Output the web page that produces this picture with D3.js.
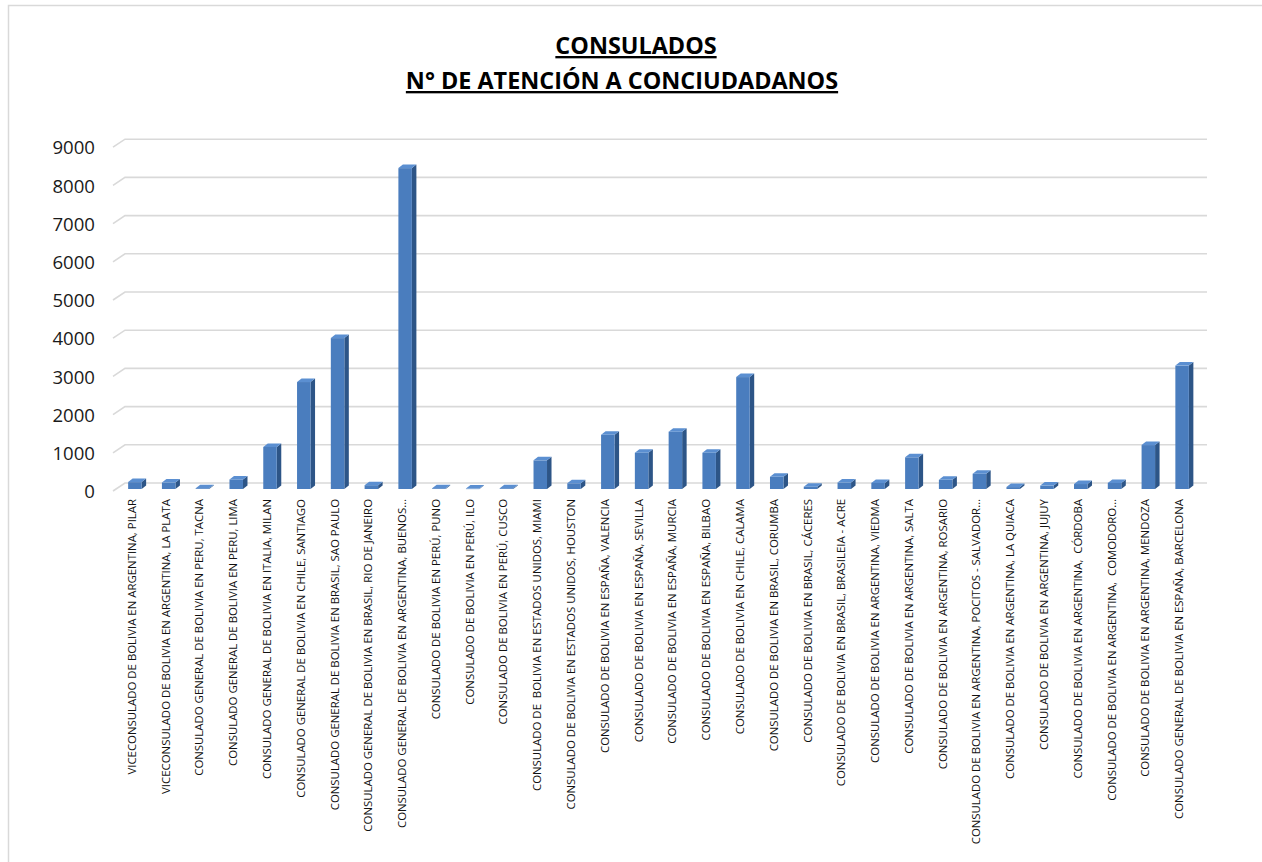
<!DOCTYPE html>
<html>
<head>
<meta charset="utf-8">
<script src="https://cdn.jsdelivr.net/npm/d3@7/dist/d3.min.js"></script>
<style>
  html, body { margin: 0; padding: 0; background: #fff; }
  svg { display: block; }
</style>
</head>
<body>
<svg id="chart" width="1262" height="862"></svg>
<script>
// ---- DATA ----
const titleLines = ["CONSULADOS", "N° DE ATENCIÓN A CONCIUDADANOS"];
const categories = [
  "VICECONSULADO DE BOLIVIA EN ARGENTINA, PILAR",
  "VICECONSULADO DE BOLIVIA EN ARGENTINA, LA PLATA",
  "CONSULADO GENERAL DE BOLIVIA EN PERU, TACNA",
  "CONSULADO GENERAL DE BOLIVIA EN PERU, LIMA",
  "CONSULADO GENERAL DE BOLIVIA EN ITALIA, MILAN",
  "CONSULADO GENERAL DE BOLIVIA EN CHILE, SANTIAGO",
  "CONSULADO GENERAL DE BOLIVIA EN BRASIL, SAO PAULO",
  "CONSULADO GENERAL DE BOLIVIA EN BRASIL, RIO DE JANEIRO",
  "CONSULADO GENERAL DE BOLIVIA EN ARGENTINA, BUENOS…",
  "CONSULADO DE BOLIVIA EN PERÚ, PUNO",
  "CONSULADO DE BOLIVIA EN PERÚ, ILO",
  "CONSULADO DE BOLIVIA EN PERÚ, CUSCO",
  "CONSULADO DE  BOLIVIA EN ESTADOS UNIDOS, MIAMI",
  "CONSULADO DE BOLIVIA EN ESTADOS UNIDOS, HOUSTON",
  "CONSULADO DE BOLIVIA EN ESPAÑA, VALENCIA",
  "CONSULADO DE BOLIVIA EN ESPAÑA, SEVILLA",
  "CONSULADO DE BOLIVIA EN ESPAÑA, MURCIA",
  "CONSULADO DE BOLIVIA EN ESPAÑA, BILBAO",
  "CONSULADO DE BOLIVIA EN CHILE, CALAMA",
  "CONSULADO DE BOLIVIA EN BRASIL, CORUMBA",
  "CONSULADO DE BOLIVIA EN BRASIL, CÁCERES",
  "CONSULADO DE BOLIVIA EN BRASIL, BRASILEIA - ACRE",
  "CONSULADO DE BOLIVIA EN ARGENTINA, VIEDMA",
  "CONSULADO DE BOLIVIA EN ARGENTINA, SALTA",
  "CONSULADO DE BOLIVIA EN ARGENTINA, ROSARIO",
  "CONSULADO DE BOLIVIA EN ARGENTINA, POCITOS - SALVADOR…",
  "CONSULADO DE BOLIVIA EN ARGENTINA, LA QUIACA",
  "CONSULADO DE BOLIVIA EN ARGENTINA, JUJUY",
  "CONSULADO DE BOLIVIA EN ARGENTINA,  CÓRDOBA",
  "CONSULADO DE BOLIVIA EN ARGENTINA,  COMODORO…",
  "CONSULADO DE BOLIVIA EN ARGENTINA, MENDOZA",
  "CONSULADO GENERAL DE BOLIVIA EN ESPAÑA, BARCELONA"
];
const values = [
  180, 170, 20, 250, 1100, 2800, 3950, 100, 8400,
  20, 10, 20, 750, 150, 1420, 950, 1500, 950, 2930,
  320, 60, 170, 160, 830, 240, 400, 50, 90, 130, 160, 1150, 3230
];
const yTicks = [0, 1000, 2000, 3000, 4000, 5000, 6000, 7000, 8000, 9000];

// ---- LAYOUT ----
const svg = d3.select("#chart");
const W = 1262, H = 862;

// chart border
svg.append("rect")
  .attr("x", 8.5).attr("y", 5.5).attr("width", W + 10).attr("height", H + 10)
  .attr("fill", "#fff").attr("stroke", "#d9d9d9").attr("stroke-width", 1.5);

// 3D offsets
const depthX = 12, depthY = 8;
const floorFrontY = 491;
const plotLeftFront = 113, plotRightBack = 1207;

// y scale for the front plane of the axis labels
const y = d3.scaleLinear().domain([0, 9000]).range([floorFrontY, floorFrontY - 9 * 38.2]);

// x band scale for columns
const x = d3.scaleBand().domain(d3.range(categories.length)).range([118, 1199]).paddingInner(0).paddingOuter(0);

// gridlines (back wall + side wall slant)
const grid = svg.append("g");
yTicks.forEach(t => {
  const yb = y(t) - depthY;
  grid.append("path")
    .attr("d", `M${plotLeftFront},${y(t)} L${plotLeftFront + depthX},${yb} L${plotRightBack},${yb}`)
    .attr("fill", "none").attr("stroke", "#d9d9d9").attr("stroke-width", 1.6);
});

// y axis labels
const yAxis = d3.axisLeft(y).tickValues(yTicks).tickSize(0).tickPadding(0).tickFormat(d3.format("d"));
const yg = svg.append("g").attr("transform", "translate(95,0)").call(yAxis);
yg.select(".domain").remove();
yg.selectAll("text")
  .attr("font-family", "'Open Sans', sans-serif")
  .attr("font-size", "18.6px")
  .attr("fill", "#1a1a1a")
  .attr("dy", "0.36em");

// bars (3D columns)
const barW = 13.5, bdx = 4.5, bdy = 3.5;
const barBase = 489;
const yb = d3.scaleLinear().domain([0, 9000]).range([barBase, barBase - 9 * 38.2]);
const bars = svg.append("g");
categories.forEach((c, i) => {
  const cx = x(i) + x.bandwidth() / 2;
  const x0 = cx - barW / 2, x1 = cx + barW / 2;
  const yt = yb(values[i]), y0 = yb(0);
  // side face
  bars.append("path")
    .attr("d", `M${x1},${y0} L${x1 + bdx},${y0 - bdy} L${x1 + bdx},${yt - bdy} L${x1},${yt} Z`)
    .attr("fill", "#2d5587");
  // front face
  bars.append("rect")
    .attr("x", x0).attr("y", yt).attr("width", barW).attr("height", Math.max(0.5, y0 - yt))
    .attr("fill", "#4a7dbe");
  // top face
  bars.append("path")
    .attr("d", `M${x0},${yt} L${x0 + bdx},${yt - bdy} L${x1 + bdx},${yt - bdy} L${x1},${yt} Z`)
    .attr("fill", "#5b8fd1");
});

// category labels (rotated)
const labels = svg.append("g");
categories.forEach((c, i) => {
  const cx = x(i) + x.bandwidth() / 2 - 3;
  labels.append("text")
    .attr("transform", `translate(${cx + 4},499) rotate(-90)`)
    .attr("text-anchor", "end")
    .attr("font-family", "'Open Sans', sans-serif")
    .attr("font-size", "11.4px")
    .attr("fill", "#111")
    .attr("xml:space", "preserve")
    .style("white-space", "pre")
    .text(c);
});

// title
const titleX = [636, 622];
const titleY = [54, 89];
titleLines.forEach((t, i) => {
  svg.append("text")
    .attr("x", titleX[i]).attr("y", titleY[i])
    .attr("text-anchor", "middle")
    .attr("font-family", "'Open Sans', sans-serif")
    .attr("font-weight", "bold")
    .attr("font-size", "23.4px")
    .attr("fill", "#000")
    .style("text-decoration", "underline")
    .text(t);
});
</script>
</body>
</html>
